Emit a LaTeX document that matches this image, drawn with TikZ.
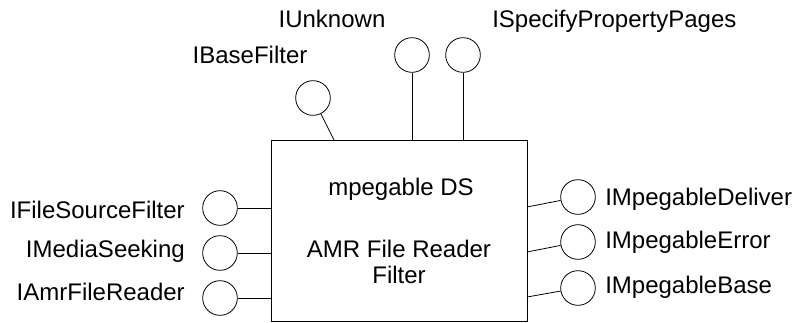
\documentclass[tikz,border=0pt]{standalone}
\usepackage{fontspec}
\setmainfont{Liberation Sans}
\tikzset{iface/.style={circle,draw,line width=0.6pt,minimum size=26pt,inner sep=0pt},
         lbl/.style={font=\fontsize{18}{20}\selectfont,inner sep=0pt},
         link/.style={line width=0.6pt}}

\begin{document}
\begin{tikzpicture}[x=0.75pt,y=-0.75pt]
            \useasboundingbox (0,0) rectangle (798,322);
            % the filter
            \node[draw,line width=0.6pt,minimum width=192pt,minimum height=135.75pt] (box) at (399,230.5) {};
            \node[lbl,anchor=base] (name1) at (401,195) {mpegable DS};
            \node[lbl,anchor=base,align=center] (name2) at (399,257) {AMR File Reader};
            \node[lbl,anchor=base] (name3) at (399,283) {Filter};
            % top
            \node[iface] (ibase) at (313,98) {};
            \node[iface] (iunk) at (412,55) {};
            \node[iface] (ispec) at (463,55) {};
            \coordinate (pbase) at (334,140);
            \draw[link] (ibase) -- (pbase);
            \draw[link] (iunk) -- (iunk |- box.north);
            \draw[link] (ispec) -- (ispec |- box.north);
            \node[lbl,anchor=base] at (250,63) {IBaseFilter};
            \node[lbl,anchor=base] at (332,27) {IUnknown};
            \node[lbl,anchor=base west] at (492,27) {ISpecifyPropertyPages};
            % left
            \node[iface] (isrc) at (220,208) {};
            \node[iface] (iseek) at (220,253) {};
            \node[iface] (iamr) at (220,298) {};
            \draw[link] (isrc) -- (isrc -| box.west);
            \draw[link] (iseek) -- (iseek -| box.west);
            \draw[link] (iamr) -- (iamr -| box.west);
            \node[lbl,anchor=base east] at (185,218) {IFileSourceFilter};
            \node[lbl,anchor=base east] at (185,257) {IMediaSeeking};
            \node[lbl,anchor=base east] at (185,300) {IAmrFileReader};
            % right
            \node[iface] (idel) at (578,197) {};
            \node[iface] (ierr) at (578,242) {};
            \node[iface] (imb) at (578,288) {};
            \coordinate (pdel) at (527,207);
            \coordinate (perr) at (527,252);
            \coordinate (pmb) at (527,297);
            \draw[link] (idel) -- (pdel);
            \draw[link] (ierr) -- (perr);
            \draw[link] (imb) -- (pmb);
            \node[lbl,anchor=base west] at (605,205) {IMpegableDeliver};
            \node[lbl,anchor=base west] at (605,248) {IMpegableError};
            \node[lbl,anchor=base west] at (605,293) {IMpegableBase};
        \end{tikzpicture}
\end{document}
